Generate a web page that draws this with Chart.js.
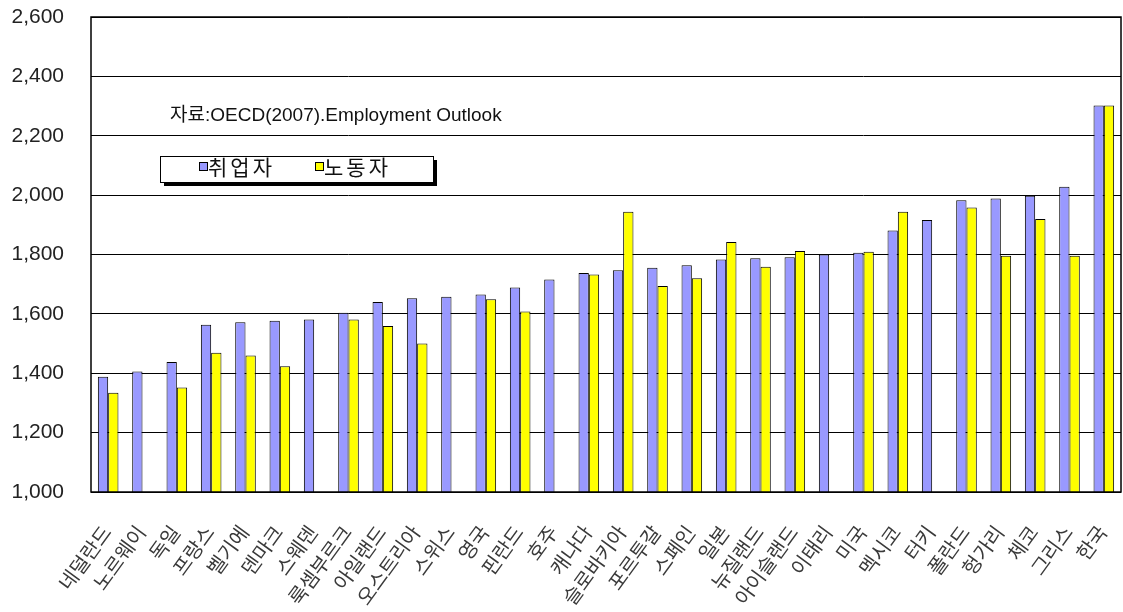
<!DOCTYPE html>
<html>
<head>
<meta charset="utf-8">
<script src="https://cdn.jsdelivr.net/npm/chart.js@4/dist/chart.umd.min.js"></script>
<style>
  html, body { margin: 0; padding: 0; background: #fff; }
  #wrap { width: 1123px; height: 612px; position: relative; }
</style>
</head>
<body>
<div id="wrap"><canvas id="hoursChart"></canvas></div>
<script>
const countries = ["네덜란드","노르웨이","독일","프랑스","벨기에","덴마크","스웨덴","룩셈부르크","아일랜드","오스트리아",
  "스위스","영국","핀란드","호주","캐나다","슬로바키아","포르투갈","스페인","일본","뉴질랜드",
  "아이슬랜드","이태리","미국","멕시코","터키","폴란드","헝가리","체코","그리스","한국"];
const employed = [1388,1406,1438,1563,1572,1577,1581,1604,1640,1653,
  1658,1665,1689,1716,1738,1747,1755,1764,1783,1787,
  1791,1800,1806,1881,1916,1983,1989,1998,2028,2302];
const workers = [1334,null,1352,1469,1460,1424,null,1581,1559,1500,
  null,1649,1608,null,1733,1944,1694,1720,1842,1759,
  1812,null,1809,1944,null,1958,1796,1920,1796,2302];
const yTicks = [1000,1200,1400,1600,1800,2000,2200,2400,2600];
const sourceNote = "자료:OECD(2007).Employment Outlook";

const FONT = "'Liberation Sans', Arial, 'Noto Sans CJK KR', sans-serif";

// frame round the plot, box legend with shadow, source note
const extras = {
  id: "extras",
  afterDraw(chart) {
    const { ctx, chartArea: a } = chart;
    ctx.save();
    ctx.strokeStyle = "#000";
    ctx.lineWidth = 1.5;
    ctx.strokeRect(a.left, a.top, a.right - a.left, a.bottom - a.top);

    ctx.fillStyle = "#111";
    ctx.font = "19px " + FONT;
    ctx.textBaseline = "middle";
    ctx.fillText(sourceNote, 170, 116);

    const bx = 160, by = 156, bw = 273, bh = 26;
    ctx.fillStyle = "#000";
    ctx.fillRect(bx + 4, by + 4, bw, bh);
    ctx.fillStyle = "#fff";
    ctx.fillRect(bx, by, bw, bh);
    ctx.lineWidth = 1;
    ctx.strokeRect(bx + 0.5, by + 0.5, bw, bh);

    ctx.font = "21px " + FONT;
    ctx.letterSpacing = "3px";
    const starts = [199, 315];
    chart.data.datasets.forEach((ds, i) => {
      const x = starts[i];
      ctx.fillStyle = ds.backgroundColor;
      ctx.fillRect(x, 162, 8, 8);
      ctx.strokeStyle = "#000";
      ctx.strokeRect(x + 0.5, 162.5, 8, 8);
      ctx.fillStyle = "#111";
      ctx.fillText(ds.label, x + 9, 169);
    });
    ctx.restore();
  }
};

new Chart(document.getElementById("hoursChart"), {
  type: "bar",
  data: {
    labels: countries,
    datasets: [
      { label: "취업자", data: employed, backgroundColor: "#9999ff", borderColor: "#000", borderWidth: 1 },
      { label: "노동자", data: workers, backgroundColor: "#ffff00", borderColor: "#000", borderWidth: 1 }
    ]
  },
  options: {
    responsive: true,
    maintainAspectRatio: false,
    animation: false,
    layout: { padding: { top: 17, right: 2, left: 0, bottom: 0 } },
    datasets: { bar: { categoryPercentage: 0.6, barPercentage: 1.0 } },
    plugins: { legend: { display: false }, tooltip: { enabled: false } },
    scales: {
      x: {
        grid: { display: false },
        border: { display: false },
        ticks: {
          color: "#3a3a3a",
          font: { family: FONT, size: 20 },
          maxRotation: 54, minRotation: 54,
          autoSkip: false,
          padding: 22
        },
        afterFit(scale) { scale.height = 120; scale.paddingLeft = 0; scale.paddingRight = 0; }
      },
      y: {
        min: 1000, max: 2600,
        afterBuildTicks(scale) { scale.ticks = yTicks.map(v => ({ value: v })); },
        grid: { color: "#000", lineWidth: 1, drawTicks: false },
        border: { display: false },
        ticks: {
          color: "#222",
          font: { family: FONT, size: 21 },
          padding: 27,
          callback: v => v.toLocaleString("en-US")
        },
        afterFit(scale) { scale.width = 91; scale.paddingTop = 0; scale.paddingBottom = 0; }
      }
    }
  },
  plugins: [extras]
});
</script>
</body>
</html>
